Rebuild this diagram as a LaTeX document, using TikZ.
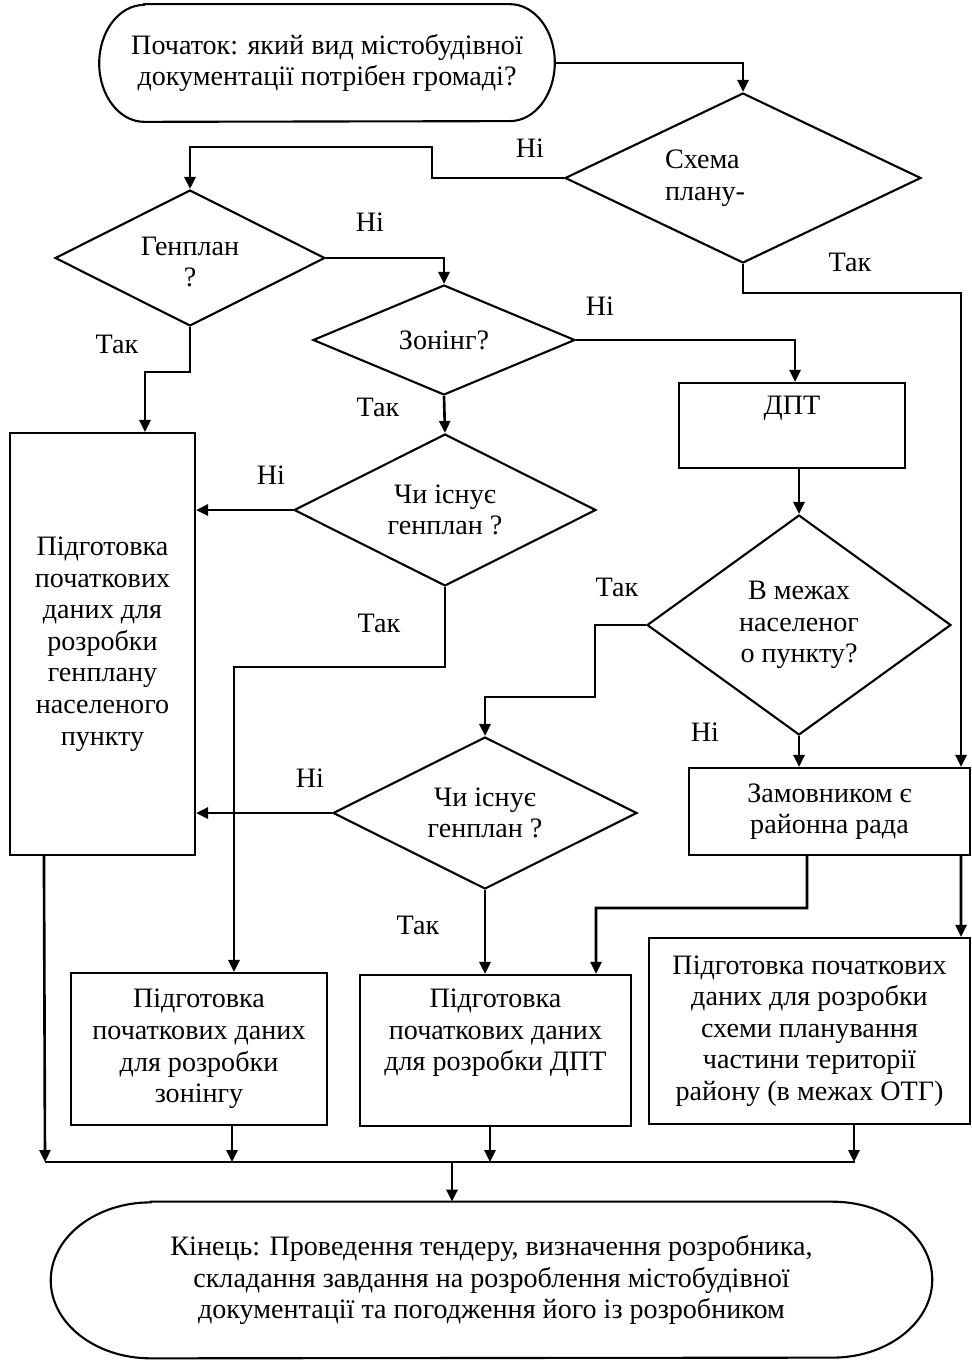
\documentclass[tikz,border=0pt]{standalone}
\usepackage{fontspec}
\setmainfont{Liberation Serif}
\usetikzlibrary{arrows.meta,shapes.geometric}

\tikzset{
  every node/.style={font=\fontsize{16}{18}\selectfont},
  block/.style={draw, line width=1.2pt, align=center, inner sep=0pt},
  decision/.style={draw, diamond, line width=1.2pt, inner sep=0pt},
  flow/.style={line width=1.5pt, -{Triangle[length=0.24cm,width=0.22cm]}},
  wire/.style={line width=1.5pt},
}

\begin{document}
\begin{tikzpicture}[x=0.02cm, y=-0.02cm]
    \useasboundingbox (0,0) rectangle (972,1362);

    % start and end
    \node[minimum width=9.1cm, minimum height=2.34cm, align=center] (start) at (327,63) {Початок: який вид містобудівної\\документації потрібен громаді?};
    \draw[line width=1.2pt] ([xshift=0.9cm]start.north west) -- ([xshift=-0.9cm]start.north east) arc[start angle=90, end angle=-90, x radius=0.9cm, y radius=1.17cm] -- ([xshift=0.9cm]start.south west) arc[start angle=270, end angle=90, x radius=0.9cm, y radius=1.17cm] -- cycle;
    \node[minimum width=17.62cm, minimum height=3.12cm, align=center] (end) at (491.5,1280) {Кінець: Проведення тендеру, визначення розробника,\\складання завдання на розроблення містобудівної\\документації та погодження його із розробником};
    \draw[line width=1.2pt] ([xshift=2cm]end.north west) -- ([xshift=-2cm]end.north east) arc[start angle=90, end angle=-90, x radius=2cm, y radius=1.56cm] -- ([xshift=2cm]end.south west) arc[start angle=270, end angle=90, x radius=2cm, y radius=1.56cm] -- cycle;

    % decisions
    \node[decision, minimum width=7.12cm, minimum height=3.4cm, label={[align=left, xshift=-0.76cm]center:Схема\\плану-}] (schema) at (743,178) {};
    \node[decision, minimum width=5.4cm, minimum height=2.72cm, label={[align=center, yshift=-0.08cm]center:Генплан\\?}] (genplan) at (190,258) {};
    \node[decision, minimum width=5.24cm, minimum height=2.2cm, label={center:Зонінг?}] (zoning) at (444,340) {};
    \node[decision, minimum width=6.04cm, minimum height=3.04cm, label={[align=center]center:Чи існує\\генплан ?}] (exists1) at (445,510) {};
    \node[decision, minimum width=6.08cm, minimum height=3.04cm, label={[align=center]center:Чи існує\\генплан ?}] (exists2) at (485,813) {};
    \node[decision, minimum width=6.08cm, minimum height=4.4cm, label={[align=center]center:В межах\\населеног\\о пункту?}] (mezhi) at (799,625) {};

    % blocks
    \node[block, minimum width=4.52cm, minimum height=1.7cm] (dpt) at (792,425.5) {ДПТ\\\strut};
    \node[block, minimum width=3.7cm, minimum height=8.44cm] (leftbox) at (102.5,644) {Підготовка\\початкових\\даних для\\розробки\\генплану\\населеного\\пункту};
    \node[block, minimum width=5.62cm, minimum height=1.74cm] (zamov) at (829.5,811.5) {Замовником є\\районна рада};
    \node[block, minimum width=5.12cm, minimum height=3.04cm] (prepZ) at (199,1049) {Підготовка\\початкових даних\\для розробки\\зонінгу};
    \node[block, minimum width=5.42cm, minimum height=3.02cm] (prepD) at (495.5,1050.5) {Підготовка\\початкових даних\\для розробки ДПТ\\\strut};
    \node[block, minimum width=6.42cm, minimum height=3.72cm] (prepS) at (809.5,1031) {Підготовка початкових\\даних для розробки\\схеми планування\\частини території\\району (в межах ОТГ)};

    % connectors
    \draw[flow] (start.east) -| (schema.north);
    \draw[flow] (schema.west) -- (432,178) -- (432,147) -| (genplan.north);
    \draw[flow] (genplan.east) -| (zoning.north);
    \draw[flow] (zoning.east) -| ([xshift=0.06cm]dpt.north);
    \draw[flow] (genplan.south) -- (190,372) -| ([xshift=0.85cm]leftbox.north);
    \draw[flow] (zoning.south) -- (exists1.north);
    \draw[flow] (exists1.west) -- (exists1.west -| leftbox.east);
    \draw[flow] (exists1.south) -- (445,667) -| ([xshift=0.7cm]prepZ.north);
    \draw[flow] (dpt.south -| mezhi.north) -- (mezhi.north);
    \draw[flow] (mezhi.west) -- (595,625) -- (595,697) -| (exists2.north);
    \draw[flow] (exists2.west) -- (exists2.west -| leftbox.east);
    \draw[flow] (exists2.south) -- (exists2.south |- prepD.north);
    \draw[flow] (mezhi.south) -- (mezhi.south |- zamov.north);
    \draw[flow] (schema.south) -- (743,293) -| ([xshift=-0.2cm]zamov.north east);
    \draw[flow] ([xshift=-0.45cm]zamov.south) -- (807,908) -| ([xshift=-0.72cm]prepD.north east);
    \draw[flow] ([xshift=-0.2cm]zamov.south east) -- ([xshift=-0.2cm]prepS.north east);

    % collector line
    \coordinate (busL) at (45,1162);
    \coordinate (busR) at (855,1162);
    \coordinate (busM) at (452,1162);
    \draw[wire] (busL) -- (busR);
    \draw[flow] ([xshift=0.7cm]leftbox.south west) -- (busL);
    \draw[flow] ([xshift=0.66cm]prepZ.south) -- ([xshift=0.66cm]prepZ.south |- busL);
    \draw[flow] ([xshift=-0.11cm]prepD.south) -- ([xshift=-0.11cm]prepD.south |- busL);
    \draw[flow] ([xshift=0.89cm]prepS.south) -- ([xshift=0.89cm]prepS.south |- busL);
    \draw[flow] (busM) -- (busM |- end.north);

    % answers
    \node (no1) at (530,148) {Ні};
    \node (no2) at (370,222) {Ні};
    \node (no3) at (600,306) {Ні};
    \node (yes1) at (850,262) {Так};
    \node (yes2) at (117,344) {Так};
    \node (yes3) at (378,407) {Так};
    \node (no4) at (271,475) {Ні};
    \node (yes4) at (379,623) {Так};
    \node (yes5) at (617,587) {Так};
    \node (no5) at (310,778) {Ні};
    \node (no6) at (705,732) {Ні};
    \node (yes6) at (418,925) {Так};
\end{tikzpicture}
\end{document}
